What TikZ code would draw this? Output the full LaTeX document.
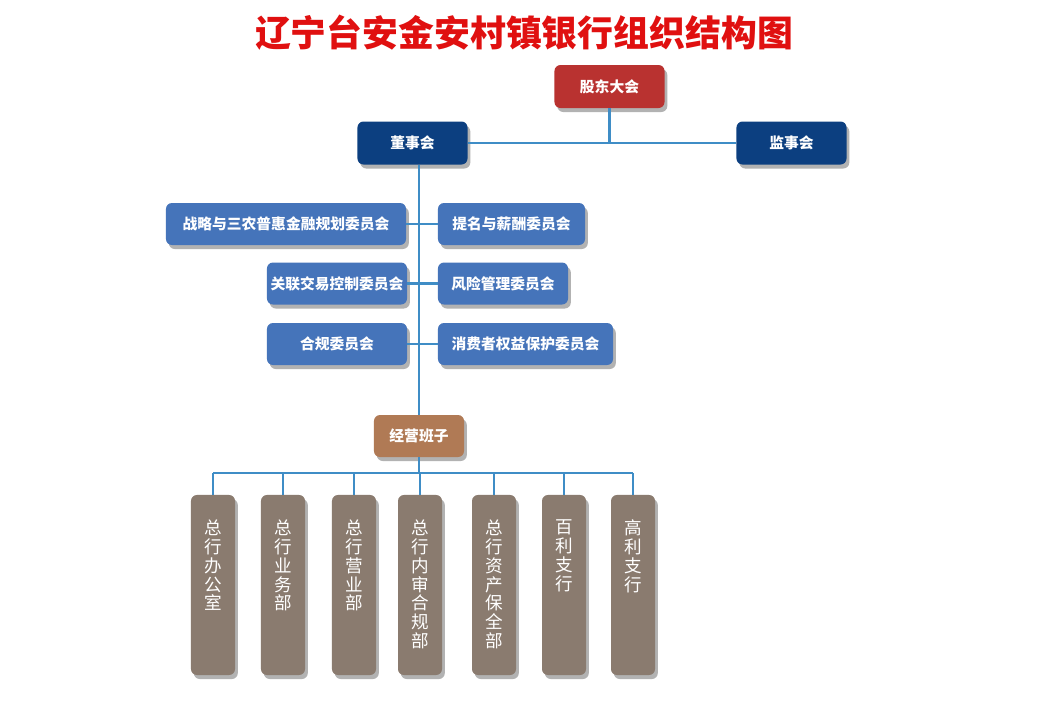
\documentclass[tikz,border=0pt]{standalone}
\usepackage{fontspec}
\setmainfont{Noto Sans CJK SC}
\usetikzlibrary{shadows}

\definecolor{gudong}{RGB}{185,50,48}
\definecolor{dongshi}{RGB}{12,63,128}
\definecolor{weiyuan}{RGB}{69,116,186}
\definecolor{jingying}{RGB}{176,122,85}
\definecolor{bumen}{RGB}{138,123,111}
\definecolor{xian}{RGB}{63,141,198}
\definecolor{ying}{RGB}{178,178,178}
\definecolor{biaoti}{RGB}{224,16,16}

\begin{document}
\begin{tikzpicture}[
        x=0.025cm, y=-0.025cm,
        kuang/.style={rounded corners=0.15cm, text=white, inner sep=0pt, minimum height=1.075cm,
            font=\bfseries\fontsize{10.5}{12}\selectfont,
            drop shadow={shadow xshift=0.07cm, shadow yshift=-0.1cm, fill=ying, opacity=1}},
        gudongkuang/.style={kuang, fill=gudong, minimum width=2.75cm},
        dongshikuang/.style={kuang, fill=dongshi, minimum width=2.75cm},
        weiyuankuang/.style={kuang, fill=weiyuan, minimum height=1.05cm},
        jingyingkuang/.style={kuang, fill=jingying, minimum width=2.25cm, minimum height=1.05cm},
        bumenkuang/.style={kuang, fill=bumen, minimum width=1.1cm, minimum height=4.5cm},
        bumenzi/.style={text=white, inner sep=0pt, anchor=north, align=center,
            font=\fontsize{12.5}{13.4}\selectfont},
        lianxian/.style={draw=xian, line width=1.5pt}
        ]
        \fill[white] (0,0) rectangle (1050,700);
        \useasboundingbox (0,0) rectangle (1050,700);

        \node (biaoti) [text=biaoti, font=\bfseries\fontsize{25.5}{28}\selectfont] at (524,33) {辽宁台安金安村镇银行组织结构图};

        \node (gd) [gudongkuang] at (609.5,86.5) {股东大会};
        \node (ds) [dongshikuang] at (412.5,143) {董事会};
        \node (js) [dongshikuang] at (791.5,143) {监事会};

        \node (c1) [weiyuankuang, minimum width=6cm] at (286,224) {战略与三农普惠金融规划委员会};
        \node (c2) [weiyuankuang, minimum width=3.675cm] at (511.5,224) {提名与薪酬委员会};
        \node (c3) [weiyuankuang, minimum width=3.5cm] at (337,283.5) {关联交易控制委员会};
        \node (c4) [weiyuankuang, minimum width=3.25cm] at (503,283.5) {风险管理委员会};
        \node (c5) [weiyuankuang, minimum width=3.5cm] at (337,344) {合规委员会};
        \node (c6) [weiyuankuang, minimum width=4.375cm] at (525.5,344) {消费者权益保护委员会};

        \node (jy) [jingyingkuang] at (419,436) {经营班子};

        \coordinate (bus) at (419,473);
        \foreach \n/\x/\t in {1/213/总\\行\\办\\公\\室, 2/283/总\\行\\业\\务\\部, 3/354/总\\行\\营\\业\\部,
                4/420/总\\行\\内\\审\\合\\规\\部, 5/494/总\\行\\资\\产\\保\\全\\部,
                6/564/百\\利\\支\\行, 7/633/高\\利\\支\\行} {
            \node (d\n) [bumenkuang] at (\x,585) {};
            \node [bumenzi] at ([yshift=-0.62cm]d\n.north) {\t};
        }

        % lianxian
        \draw[lianxian] (gd.south) -- (gd.south |- ds.east);
        \draw[lianxian] (ds.east) -- (js.west);
        \draw[lianxian] (jy.north |- ds.south) -- (jy.north);
        \draw[lianxian] (c1.east) -- (c2.west);
        \draw[lianxian] (c3.east) -- (c4.west);
        \draw[lianxian] (c5.east) -- (c6.west);
        \draw[lianxian] (jy.south) -- (bus);
        \draw[lianxian] (d1.north |- bus) -- (d7.north |- bus);
        \foreach \n in {1,...,7} {
            \draw[lianxian] (d\n.north |- bus) -- (d\n.north);
        }
    \end{tikzpicture}
\end{document}
